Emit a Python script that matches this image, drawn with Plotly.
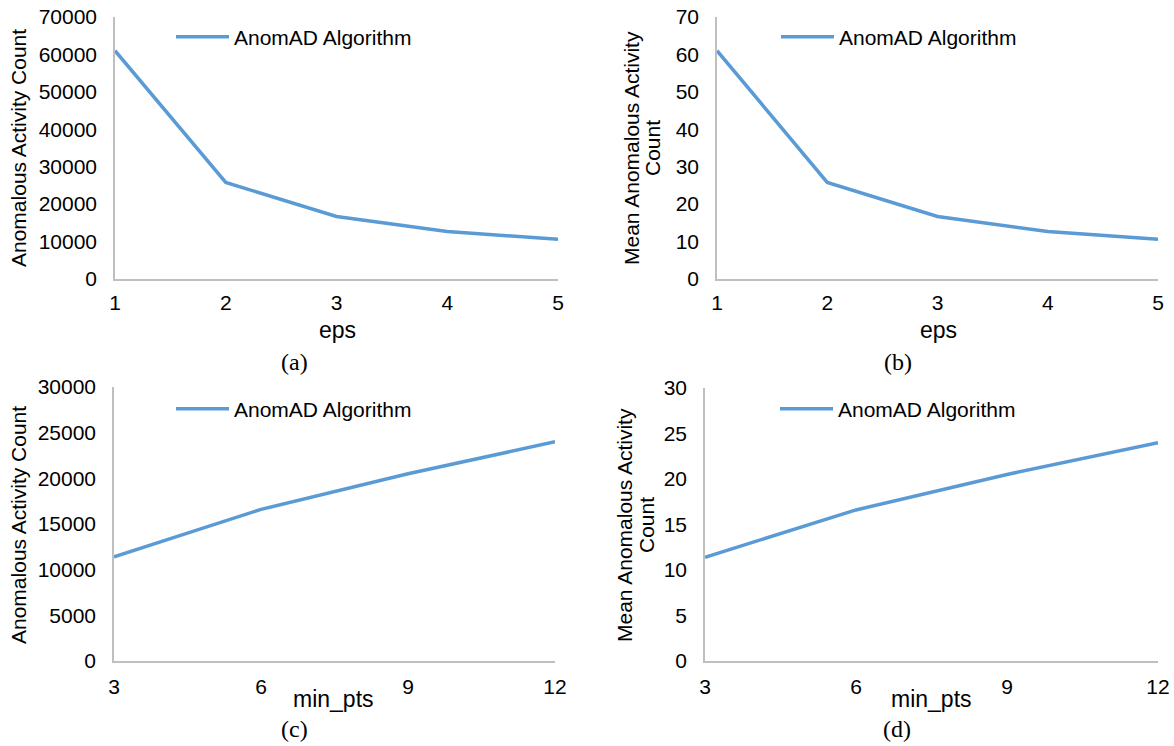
import plotly.graph_objects as go

W, H = 1174, 746

# ---- data ----
eps_values = [1, 2, 3, 4, 5]
eps_counts = [61000, 25800, 16700, 12700, 10600]
eps_mean_counts = [61, 25.8, 16.7, 12.7, 10.6]

minpts_values = [3, 6, 9, 12]
minpts_counts = [11400, 16600, 20500, 24000]
minpts_mean_counts = [11.4, 16.6, 20.5, 24.0]

series_name = "AnomAD Algorithm"
eps_ticks = [1, 2, 3, 4, 5]
minpts_ticks = [3, 6, 9, 12]

LINE_COLOR = "#5B9BD5"
AXIS_COLOR = "#BFBFBF"
SANS = "Arial, Liberation Sans, sans-serif"
SERIF = "Times New Roman, Liberation Serif, serif"


def px(x):
    return x / W


def py(y):
    return 1 - y / H


fig = go.Figure()

panels = [
    ("x", "y", eps_values, eps_counts, "legend"),
    ("x2", "y2", eps_values, eps_mean_counts, "legend2"),
    ("x3", "y3", minpts_values, minpts_counts, "legend3"),
    ("x4", "y4", minpts_values, minpts_mean_counts, "legend4"),
]
for xa, ya, xs, ys, lg in panels:
    fig.add_trace(go.Scatter(
        x=xs, y=ys, mode="lines", name=series_name,
        line=dict(color=LINE_COLOR, width=3.5),
        xaxis=xa, yaxis=ya, legend=lg, showlegend=True,
    ))

tickfont = dict(family=SANS, size=21, color="#000000")


def xaxis(domain, rng, tickvals, anchor, standoff):
    return dict(domain=domain, range=rng, tickvals=tickvals, anchor=anchor,
                showline=True, linecolor=AXIS_COLOR, linewidth=1.5,
                showgrid=False, zeroline=False, ticks="", automargin=False,
                ticklabelstandoff=standoff, tickfont=tickfont)


def yaxis(domain, rng, dtick, anchor):
    return dict(domain=domain, range=rng, dtick=dtick, tick0=0, anchor=anchor,
                showline=True, linecolor=AXIS_COLOR, linewidth=1.5,
                showgrid=False, zeroline=False, ticks="", tickformat="d",
                automargin=False, ticklabelstandoff=12, tickfont=tickfont)


top_y = [py(279), py(17)]
bot_y = [py(661), py(387)]

fig.update_layout(
    template="none",
    width=W, height=H,
    margin=dict(l=0, r=0, t=0, b=0, pad=0, autoexpand=False),
    paper_bgcolor="white", plot_bgcolor="white",
    xaxis=xaxis([px(115), px(558)], [1, 5], eps_ticks, "y", 4),
    yaxis=yaxis(top_y, [0, 70000], 10000, "x"),
    xaxis2=xaxis([px(717), px(1158)], [1, 5], eps_ticks, "y2", 4),
    yaxis2=yaxis(top_y, [0, 70], 10, "x2"),
    xaxis3=xaxis([px(114), px(555)], [3, 12], minpts_ticks, "y3", 6),
    yaxis3=yaxis(bot_y, [0, 30000], 5000, "x3"),
    xaxis4=xaxis([px(705), px(1158)], [3, 12], minpts_ticks, "y4", 6),
    yaxis4=yaxis([py(661), py(388)], [0, 30], 5, "x4"),
    showlegend=True,
)

legend_font = dict(family=SANS, size=21, color="#000000")
for lg, lx, ly in [("legend", 171, 37), ("legend2", 776, 37),
                   ("legend3", 171, 409), ("legend4", 775, 409)]:
    fig.update_layout({lg: dict(x=px(lx), y=py(ly), xanchor="left", yanchor="middle",
                                bgcolor="rgba(0,0,0,0)", borderwidth=0,
                                font=legend_font, itemwidth=53)})

annotations = []


def ann(text, x, y, size, family=SANS, angle=0):
    annotations.append(dict(text=text, x=px(x), y=py(y), xref="paper", yref="paper",
                            xanchor="center", yanchor="middle", showarrow=False,
                            textangle=angle,
                            font=dict(family=family, size=size, color="#000000")))


# y-axis titles
ann("Anomalous Activity Count", 18, 148, 21, angle=-90)
ann("Mean Anomalous Activity", 631, 148, 21, angle=-90)
ann("Count", 652, 148, 21, angle=-90)
ann("Anomalous Activity Count", 18, 525, 21, angle=-90)
ann("Mean Anomalous Activity", 624, 525, 21, angle=-90)
ann("Count", 646, 525, 21, angle=-90)

# x-axis titles
ann("eps", 337, 330, 23)
ann("eps", 938, 330, 23)
ann("min_pts", 333, 699, 23)
ann("min_pts", 931, 699, 23)

# captions
ann("(a)", 295, 362, 24, family=SERIF)
ann("(b)", 898, 362, 24, family=SERIF)
ann("(c)", 295, 729, 24, family=SERIF)
ann("(d)", 897, 729, 24, family=SERIF)

fig.update_layout(annotations=annotations)

fig.write_html("out.html")
